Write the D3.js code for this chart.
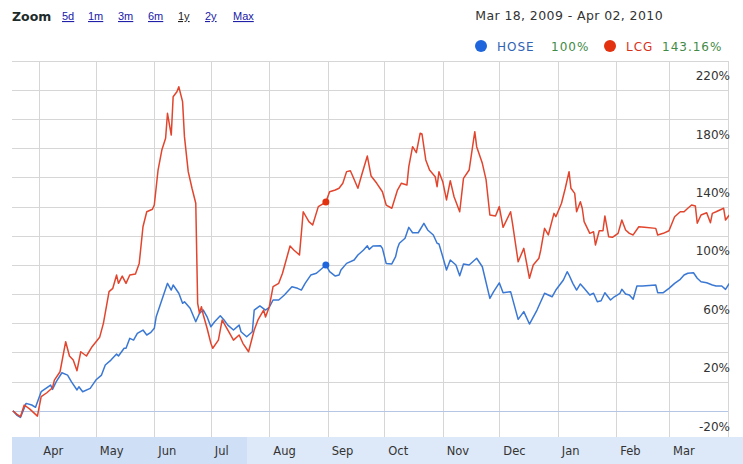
<!DOCTYPE html>
<html>
<head>
<meta charset="utf-8">
<script src="https://cdn.jsdelivr.net/npm/d3@7"></script>
<style>
  html, body { margin: 0; padding: 0; background: #fff; }
  #chart { width: 743px; height: 464px; overflow: hidden; }
</style>
</head>
<body>
<div id="chart"></div>
<script>
// page constants
const WIDTH = 743;
const HEIGHT = 464;
const PLOT = { left: 12, right: 728, top: 61, bottom: 437 };

// zoom links and date range shown in the header
const zoomLinks = ["5d", "1m", "3m", "6m", "1y", "2y", "Max"];
const selectedZoom = "1y";
const rangeText = "Mar 18, 2009 - Apr 02, 2010";

// month tick positions and labels
const monthStarts = ["2009-04-01", "2009-05-01", "2009-06-01", "2009-07-01", "2009-08-01", "2009-09-01",
  "2009-10-01", "2009-11-01", "2009-12-01", "2010-01-01", "2010-02-01", "2010-03-01"];
const monthLabels = ["Apr", "May", "Jun", "Jul", "Aug", "Sep", "Oct", "Nov", "Dec", "Jan", "Feb", "Mar"];

// percent grid and labelled ticks
const gridLevels = [-20, 0, 20, 40, 60, 80, 100, 120, 140, 160, 180, 200, 220, 240];
const yTickLabels = [-20, 20, 60, 100, 140, 180, 220];

// hover point shown in the legend
const hoverDate = "2009-08-31";
const legendItems = [
  { name: "HOSE", value: "100%", color: "#1f66dd", text: "#2f63b5" },
  { name: "LCG", value: "143.16%", color: "#e2320f", text: "#d8321a" },
];

// HOSE, % change since Mar 18, 2009
const hose = [
  ["2009-03-18", 0], ["2009-03-20", -2.9], ["2009-03-22", -4.5], ["2009-03-25", 5.1], ["2009-03-28", 4.0],
  ["2009-03-30", 2.4], ["2009-04-02", 13.1], ["2009-04-07", 17.7], ["2009-04-08", 14.7], ["2009-04-10", 20.0],
  ["2009-04-13", 26.1], ["2009-04-16", 24.5], ["2009-04-18", 20.0], ["2009-04-21", 14.3], ["2009-04-22", 16.5],
  ["2009-04-24", 13.1], ["2009-04-28", 15.4], ["2009-05-01", 21.1], ["2009-05-04", 24.5], ["2009-05-06", 31.4],
  ["2009-05-09", 34.8], ["2009-05-12", 38.9], ["2009-05-13", 37.6], ["2009-05-16", 42.9], ["2009-05-17", 42.9],
  ["2009-05-19", 49.7], ["2009-05-21", 48.5], ["2009-05-23", 53.1], ["2009-05-26", 55.4], ["2009-05-28", 52.0],
  ["2009-05-30", 53.6], ["2009-06-01", 56.6], ["2009-06-02", 64.5], ["2009-06-05", 76.0], ["2009-06-08", 87.4],
  ["2009-06-10", 82.8], ["2009-06-11", 86.3], ["2009-06-14", 80.6], ["2009-06-16", 73.7], ["2009-06-17", 74.8],
  ["2009-06-20", 70.3], ["2009-06-23", 61.1], ["2009-06-25", 66.9], ["2009-06-27", 69.1], ["2009-06-29", 64.5],
  ["2009-07-01", 57.7], ["2009-07-03", 61.1], ["2009-07-06", 65.2], ["2009-07-08", 62.3], ["2009-07-10", 58.8],
  ["2009-07-13", 55.4], ["2009-07-16", 58.8], ["2009-07-17", 54.2], ["2009-07-20", 50.8], ["2009-07-23", 54.2],
  ["2009-07-24", 69.1], ["2009-07-27", 71.9], ["2009-07-30", 69.1], ["2009-08-01", 71.0], ["2009-08-03", 76.0],
  ["2009-08-06", 76.0], ["2009-08-09", 79.4], ["2009-08-13", 85.1], ["2009-08-16", 84.0], ["2009-08-18", 82.8],
  ["2009-08-20", 87.4], ["2009-08-23", 93.1], ["2009-08-26", 94.3], ["2009-08-28", 96.6], ["2009-08-31", 100],
  ["2009-09-02", 95.4], ["2009-09-05", 92.4], ["2009-09-07", 93.1], ["2009-09-08", 96.6], ["2009-09-11", 101.1],
  ["2009-09-15", 103.4], ["2009-09-17", 106.8], ["2009-09-20", 110.3], ["2009-09-22", 113.2], ["2009-09-23", 110.7],
  ["2009-09-25", 113.0], ["2009-09-29", 113.2], ["2009-09-30", 111.4], ["2009-10-02", 101.1], ["2009-10-05", 100.7],
  ["2009-10-07", 105.7], ["2009-10-08", 111.4], ["2009-10-09", 114.9], ["2009-10-12", 118.3], ["2009-10-14", 125.8],
  ["2009-10-16", 122.1], ["2009-10-19", 122.1], ["2009-10-22", 128.6], ["2009-10-24", 124.0], ["2009-10-27", 120.6],
  ["2009-10-29", 114.9], ["2009-10-30", 114.4], ["2009-11-01", 105.7], ["2009-11-03", 96.6], ["2009-11-05", 103.4],
  ["2009-11-08", 100.0], ["2009-11-10", 92.6], ["2009-11-12", 100.7], ["2009-11-15", 100.0], ["2009-11-19", 104.6],
  ["2009-11-22", 98.8], ["2009-11-26", 77.1], ["2009-11-28", 81.7], ["2009-12-01", 87.8], ["2009-12-03", 81.0],
  ["2009-12-07", 81.7], ["2009-12-11", 62.7], ["2009-12-14", 68.0], ["2009-12-17", 59.5], ["2009-12-21", 69.1],
  ["2009-12-25", 80.6], ["2009-12-29", 78.2], ["2009-12-31", 82.8], ["2010-01-04", 89.7], ["2010-01-06", 95.4],
  ["2010-01-07", 93.1], ["2010-01-09", 87.4], ["2010-01-11", 82.8], ["2010-01-13", 87.0], ["2010-01-15", 84.0],
  ["2010-01-18", 79.4], ["2010-01-20", 80.6], ["2010-01-22", 74.8], ["2010-01-24", 75.5], ["2010-01-26", 81.0],
  ["2010-01-29", 76.0], ["2010-01-31", 78.2], ["2010-02-03", 80.6], ["2010-02-04", 83.3], ["2010-02-06", 80.1],
  ["2010-02-08", 79.4], ["2010-02-10", 76.5], ["2010-02-12", 85.6], ["2010-02-15", 85.6], ["2010-02-22", 86.3],
  ["2010-02-23", 81.0], ["2010-02-26", 81.0], ["2010-03-01", 84.0], ["2010-03-04", 87.4], ["2010-03-07", 90.2],
  ["2010-03-09", 93.1], ["2010-03-11", 94.3], ["2010-03-14", 94.7], ["2010-03-16", 90.9], ["2010-03-18", 88.5],
  ["2010-03-21", 87.8], ["2010-03-24", 86.3], ["2010-03-26", 85.6], ["2010-03-29", 85.6], ["2010-03-31", 83.3],
  ["2010-04-02", 87.4],
];

// LCG, % change since Mar 18, 2009
const lcg = [
  ["2009-03-18", 0], ["2009-03-20", -2.2], ["2009-03-22", -4.0], ["2009-03-24", 4.0], ["2009-03-27", 1.2],
  ["2009-03-31", -3.6], ["2009-04-02", 9.7], ["2009-04-05", 12.4], ["2009-04-08", 15.8], ["2009-04-09", 21.1],
  ["2009-04-12", 26.8], ["2009-04-15", 47.4], ["2009-04-17", 37.6], ["2009-04-19", 34.8], ["2009-04-21", 27.5],
  ["2009-04-23", 40.5], ["2009-04-26", 37.6], ["2009-04-29", 44.0], ["2009-05-03", 50.4], ["2009-05-05", 60.0],
  ["2009-05-08", 81.7], ["2009-05-10", 84.0], ["2009-05-12", 93.1], ["2009-05-13", 87.4], ["2009-05-15", 92.4],
  ["2009-05-17", 87.4], ["2009-05-19", 93.1], ["2009-05-22", 93.8], ["2009-05-24", 101.1], ["2009-05-26", 126.2],
  ["2009-05-28", 136.5], ["2009-05-31", 138.2], ["2009-06-01", 141.1], ["2009-06-03", 165.1], ["2009-06-05", 178.8],
  ["2009-06-07", 186.9], ["2009-06-08", 204.0], ["2009-06-10", 189.1], ["2009-06-11", 215.4], ["2009-06-13", 218.8],
  ["2009-06-14", 222.2], ["2009-06-16", 212.0], ["2009-06-17", 188.0], ["2009-06-19", 164.0], ["2009-06-21", 152.6],
  ["2009-06-23", 142.3], ["2009-06-24", 73.7], ["2009-06-25", 66.9], ["2009-06-26", 71.4], ["2009-06-27", 65.7],
  ["2009-06-29", 56.6], ["2009-07-01", 46.3], ["2009-07-02", 42.9], ["2009-07-05", 48.5], ["2009-07-07", 62.3],
  ["2009-07-08", 60.0], ["2009-07-11", 53.1], ["2009-07-13", 48.5], ["2009-07-16", 52.0], ["2009-07-18", 46.3],
  ["2009-07-21", 40.5], ["2009-07-24", 55.4], ["2009-07-26", 62.3], ["2009-07-29", 69.1], ["2009-07-30", 64.3],
  ["2009-08-01", 71.4], ["2009-08-03", 85.1], ["2009-08-06", 87.4], ["2009-08-08", 94.3], ["2009-08-12", 113.0],
  ["2009-08-14", 110.3], ["2009-08-17", 106.8], ["2009-08-19", 136.5], ["2009-08-22", 129.7], ["2009-08-24", 127.4],
  ["2009-08-27", 140.0], ["2009-08-31", 143.16], ["2009-09-02", 150.2], ["2009-09-05", 151.4], ["2009-09-07", 152.6],
  ["2009-09-09", 156.0], ["2009-09-11", 164.0], ["2009-09-13", 164.6], ["2009-09-14", 161.7], ["2009-09-17", 152.6],
  ["2009-09-19", 161.7], ["2009-09-22", 174.7], ["2009-09-24", 161.0], ["2009-09-27", 156.0], ["2009-09-30", 150.2],
  ["2009-10-02", 141.1], ["2009-10-05", 138.9], ["2009-10-08", 151.4], ["2009-10-10", 156.0], ["2009-10-13", 154.8],
  ["2009-10-14", 167.4], ["2009-10-16", 181.1], ["2009-10-18", 177.0], ["2009-10-20", 190.3], ["2009-10-21", 189.8],
  ["2009-10-23", 172.0], ["2009-10-25", 165.1], ["2009-10-28", 160.5], ["2009-10-29", 153.7], ["2009-10-30", 164.0],
  ["2009-11-01", 157.1], ["2009-11-03", 144.6], ["2009-11-05", 157.8], ["2009-11-07", 146.8], ["2009-11-10", 136.5],
  ["2009-11-12", 159.4], ["2009-11-15", 165.1], ["2009-11-18", 191.4], ["2009-11-19", 181.1], ["2009-11-22", 169.7],
  ["2009-11-24", 158.3], ["2009-11-26", 134.3], ["2009-11-29", 133.6], ["2009-12-01", 140.0], ["2009-12-03", 125.8],
  ["2009-12-07", 136.5], ["2009-12-08", 128.6], ["2009-12-11", 102.2], ["2009-12-14", 111.4], ["2009-12-17", 90.9],
  ["2009-12-19", 100.0], ["2009-12-22", 104.6], ["2009-12-23", 110.3], ["2009-12-25", 125.1], ["2009-12-27", 120.6],
  ["2009-12-30", 135.4], ["2009-12-31", 133.1], ["2010-01-03", 142.3], ["2010-01-05", 152.6], ["2010-01-07", 164.0],
  ["2010-01-08", 152.6], ["2010-01-10", 149.1], ["2010-01-11", 136.5], ["2010-01-13", 143.4], ["2010-01-14", 138.9],
  ["2010-01-15", 129.7], ["2010-01-18", 121.7], ["2010-01-20", 122.8], ["2010-01-21", 113.7], ["2010-01-23", 123.5],
  ["2010-01-25", 123.5], ["2010-01-26", 133.6], ["2010-01-28", 119.4], ["2010-01-30", 119.0], ["2010-02-02", 121.7],
  ["2010-02-04", 130.8], ["2010-02-06", 124.0], ["2010-02-08", 121.7], ["2010-02-10", 120.6], ["2010-02-13", 126.2],
  ["2010-02-16", 125.8], ["2010-02-22", 125.1], ["2010-02-23", 120.6], ["2010-02-26", 121.7], ["2010-03-01", 123.5],
  ["2010-03-04", 133.1], ["2010-03-07", 136.5], ["2010-03-09", 136.5], ["2010-03-11", 138.9], ["2010-03-13", 141.1],
  ["2010-03-15", 140.4], ["2010-03-16", 128.6], ["2010-03-18", 134.3], ["2010-03-21", 135.8], ["2010-03-23", 129.0],
  ["2010-03-24", 135.4], ["2010-03-26", 136.5], ["2010-03-28", 137.7], ["2010-03-30", 138.9], ["2010-03-31", 130.8],
  ["2010-04-02", 134.3],
];

const parse = d3.timeParse("%Y-%m-%d");

function render() {
  const svg = d3
    .select("#chart")
    .append("svg")
    .attr("width", WIDTH)
    .attr("height", HEIGHT)
    .style("font-family", "'DejaVu Sans', Verdana, sans-serif");

  const x = d3
    .scaleTime()
    .domain([parse("2009-03-18"), parse("2010-04-02")])
    .range([12.9, 729.3]);

  const y = d3.scaleLinear().domain([-20, 240]).range([440, 60.8]);

  // header: zoom links
  svg
    .append("text")
    .text("Zoom")
    .attr("x", 12)
    .attr("y", 21)
    .attr("font-size", "12.5px")
    .attr("font-weight", "bold")
    .attr("fill", "#1e2b2b");

  const linkX = [62, 88, 118, 148, 178, 205, 233];
  svg
    .append("g")
    .selectAll("text")
    .data(zoomLinks)
    .join("text")
    .text((d) => d)
    .attr("x", (_, i) => linkX[i])
    .attr("y", 20)
    .attr("font-family", "'Liberation Sans', Arial, sans-serif")
    .attr("font-size", "11px")
    .attr("text-decoration", "underline")
    .attr("fill", (d) => (d === selectedZoom ? "#222" : "#2020a8"));

  svg
    .append("text")
    .text(rangeText)
    .attr("x", 663)
    .attr("y", 20)
    .attr("text-anchor", "end")
    .attr("font-size", "12.5px")
    .attr("letter-spacing", "0.4px")
    .attr("fill", "#333");

  // legend
  const legend = svg.append("g").attr("font-size", "12px").attr("letter-spacing", "1px");
  const itemX = [481, 610];
  legendItems.forEach((item, i) => {
    legend
      .append("circle")
      .attr("cx", itemX[i])
      .attr("cy", 46)
      .attr("r", 6)
      .attr("fill", item.color);
    legend
      .append("text")
      .text(item.name)
      .attr("x", itemX[i] + 16)
      .attr("y", 51)
      .attr("fill", item.text);
  });
  legend
    .append("text")
    .text(legendItems[0].value)
    .attr("x", 551)
    .attr("y", 51)
    .attr("fill", "#3f8a46");
  legend
    .append("text")
    .text(legendItems[1].value)
    .attr("x", 662)
    .attr("y", 51)
    .attr("fill", "#3f8a46");

  // grid
  const grid = svg.append("g").attr("stroke", "#d6d6d6").attr("stroke-width", 1);
  grid
    .selectAll("line.h")
    .data(gridLevels.filter((d) => d !== 0))
    .join("line")
    .attr("class", "h")
    .attr("x1", PLOT.left)
    .attr("x2", PLOT.right)
    .attr("y1", (d) => Math.round(y(d)) + 0.5)
    .attr("y2", (d) => Math.round(y(d)) + 0.5);
  grid
    .selectAll("line.v")
    .data(monthStarts)
    .join("line")
    .attr("class", "v")
    .attr("x1", (d) => Math.round(x(parse(d))) + 0.5)
    .attr("x2", (d) => Math.round(x(parse(d))) + 0.5)
    .attr("y1", PLOT.top)
    .attr("y2", PLOT.bottom);
  grid
    .append("line")
    .attr("x1", PLOT.right + 0.5)
    .attr("x2", PLOT.right + 0.5)
    .attr("y1", PLOT.top)
    .attr("y2", PLOT.bottom);

  // zero baseline
  svg
    .append("line")
    .attr("x1", PLOT.left)
    .attr("x2", PLOT.right)
    .attr("y1", Math.round(y(0)) + 0.5)
    .attr("y2", Math.round(y(0)) + 0.5)
    .attr("stroke", "#b4c6e4")
    .attr("stroke-width", 1);

  // y labels sit just above their grid line
  svg
    .append("g")
    .selectAll("text")
    .data(yTickLabels)
    .join("text")
    .text((d) => d + "%")
    .attr("x", 730)
    .attr("y", (d) => y(d) - 9.5)
    .attr("text-anchor", "end")
    .attr("font-size", "12px")
    .attr("fill", "#333");

  // clip for series
  svg
    .append("clipPath")
    .attr("id", "plotClip")
    .append("rect")
    .attr("x", PLOT.left)
    .attr("y", PLOT.top)
    .attr("width", PLOT.right - PLOT.left + 1)
    .attr("height", PLOT.bottom - PLOT.top);

  const line = d3
    .line()
    .x((d) => x(parse(d[0])))
    .y((d) => y(d[1]));

  const series = [
    { data: hose, color: "#3a78d4" },
    { data: lcg, color: "#e2452d" },
  ];
  svg
    .append("g")
    .attr("clip-path", "url(#plotClip)")
    .selectAll("path")
    .data(series)
    .join("path")
    .attr("d", (d) => line(d.data))
    .attr("fill", "none")
    .attr("stroke", (d) => d.color)
    .attr("stroke-width", 1.5)
    .attr("stroke-linejoin", "round");

  // hover markers
  series.forEach((s, i) => {
    const p = s.data.find((d) => d[0] === hoverDate);
    svg
      .append("circle")
      .attr("cx", x(parse(p[0])))
      .attr("cy", y(p[1]))
      .attr("r", 3.5)
      .attr("fill", legendItems[i].color);
  });

  // bottom month band
  svg
    .append("rect")
    .attr("x", PLOT.left)
    .attr("y", PLOT.bottom)
    .attr("width", WIDTH - PLOT.left)
    .attr("height", HEIGHT - PLOT.bottom)
    .attr("fill", "#dde8f8");
  svg
    .append("rect")
    .attr("x", PLOT.left)
    .attr("y", PLOT.bottom)
    .attr("width", 247 - PLOT.left)
    .attr("height", HEIGHT - PLOT.bottom)
    .attr("fill", "#cfdff5");

  svg
    .append("g")
    .selectAll("text")
    .data(monthStarts)
    .join("text")
    .text((_, i) => monthLabels[i])
    .attr("x", (d) => x(parse(d)) + 4)
    .attr("y", 455)
    .attr("font-size", "11.5px")
    .attr("fill", "#333");
}

render();
</script>
</body>
</html>
